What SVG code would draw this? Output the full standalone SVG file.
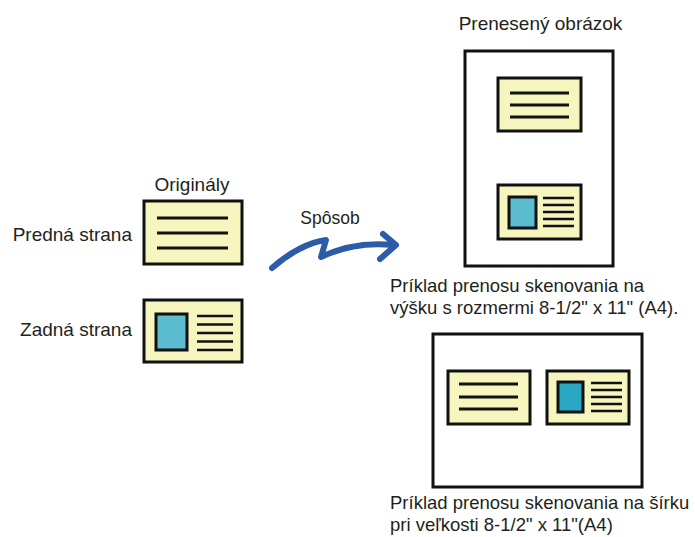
<svg xmlns="http://www.w3.org/2000/svg" width="695" height="537" viewBox="0 0 695 537">
<style>
text{font-family:"Liberation Sans",Arial,sans-serif;font-size:18.5px;fill:#231f20}
.big{font-size:19px}
.card{fill:#f5f5bd;stroke:#111;stroke-width:3}
.page{fill:#fff;stroke:#111;stroke-width:3}
.ln{stroke:#111;stroke-width:3}
.ln2{stroke:#111;stroke-width:2.5}
.pic{fill:#5bbccf;stroke:#111;stroke-width:3}
.pic2{fill:#2aa7c3;stroke:#111;stroke-width:3}
</style>
<text class="big" x="192" y="191" text-anchor="middle">Originály</text>
<text class="big" x="132" y="241" text-anchor="end">Predná strana</text>
<text class="big" x="132" y="336" text-anchor="end">Zadná strana</text>
<text x="330" y="224" text-anchor="middle" style="font-size:17.5px">Spôsob</text>
<text class="big" x="540.5" y="30" text-anchor="middle">Prenesený obrázok</text>
<text x="390" y="292">Príklad prenosu skenovania na</text>
<text x="390" y="314">výšku s rozmermi 8-1/2" x 11" (A4).</text>
<text x="390" y="509">Príklad prenosu skenovania na šírku</text>
<text x="390" y="531">pri veľkosti 8-1/2" x 11"(A4)</text>
<g id="front-original">
<rect class="card" x="144" y="201" width="98" height="63"/>
<path class="ln" d="M157,218H228M157,233H228M157,248H228"/>
</g>
<g id="back-original">
<rect class="card" x="144" y="300" width="98" height="62"/>
<rect class="pic" x="156" y="314" width="31" height="36"/>
<path class="ln2" d="M197,316H233M197,324.5H233M197,333H233M197,341.5H233M197,350H233"/>
</g>
<g id="portrait-page">
<rect class="page" x="465" y="51" width="148" height="215"/>
<rect class="card" x="498" y="78" width="83" height="53"/>
<path class="ln" d="M510,93H569M510,105H569M510,117H569"/>
<rect class="card" x="498" y="185" width="83" height="54"/>
<rect class="pic" x="509" y="197" width="27" height="31"/>
<path class="ln2" d="M543,198H574M543,205H574M543,212H574M543,219H574M543,226H574"/>
</g>
<g id="landscape-page">
<rect class="page" x="433" y="334" width="209" height="153"/>
<rect class="card" x="448" y="371" width="82" height="53"/>
<path class="ln" d="M459,384H518M459,397H518M459,409H518"/>
<rect class="card" x="547" y="371" width="82" height="53"/>
<rect class="pic2" x="558" y="382" width="25" height="30"/>
<path class="ln2" d="M591,383H622M591,390H622M591,397H622M591,404H622M591,411H622"/>
</g>
<g id="connectors">
<path d="M272,268C290,252 310,242 326,240L321,257C340,248 365,242 393,245" fill="none" stroke="#2a5caa" stroke-width="6" stroke-linejoin="round" stroke-linecap="round"/>
<path d="M383,234L396,245L380,259" fill="none" stroke="#2a5caa" stroke-width="6" stroke-linejoin="round" stroke-linecap="round"/>
</g>
</svg>
